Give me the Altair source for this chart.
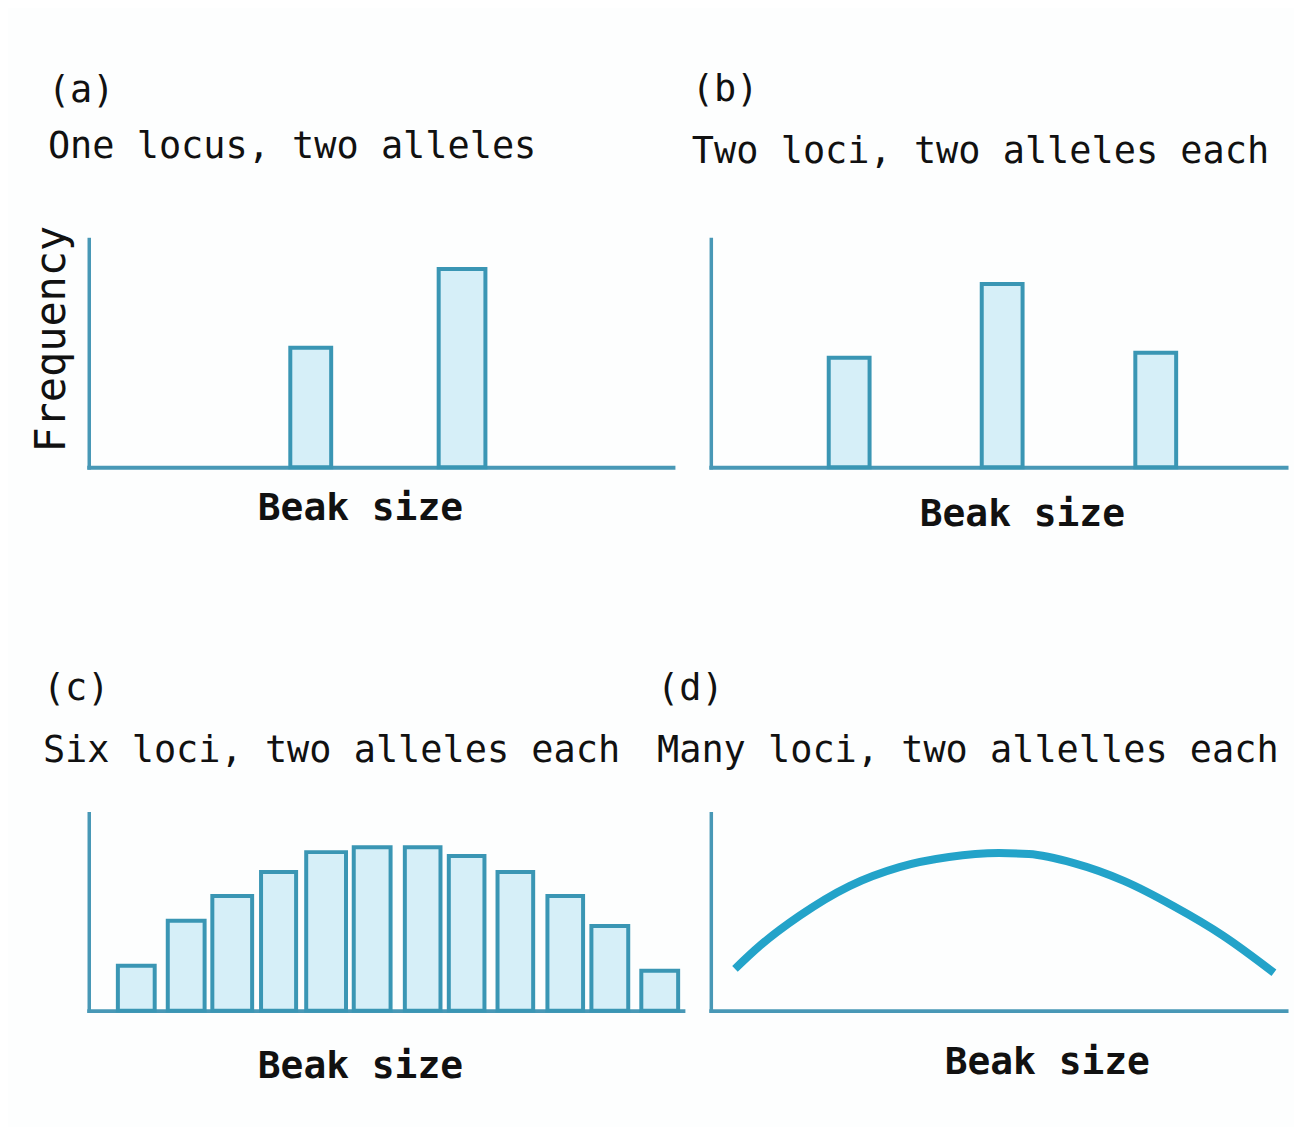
import altair as alt
import pandas as pd

# ---------------- data ----------------
# beak-size positions are on a 0-100 scale spanning each panel's x axis,
# frequencies on a 0-100 scale spanning each panel's y axis
a_left = [34.5, 59.9]
a_right = [41.5, 67.9]
a_freq = [52.4, 86.9]

b_left = [20.5, 47.1, 73.8]
b_right = [27.6, 54.2, 80.9]
b_freq = [48.0, 80.3, 50.2]

c_left = [4.9, 13.3, 20.8, 29.0, 36.6, 44.6, 53.2, 60.6, 68.8, 77.2, 84.6, 93.0]
c_right = [11.1, 19.5, 27.5, 34.9, 43.3, 50.8, 59.2, 66.6, 74.8, 83.2, 90.8, 99.2]
c_freq = [22.7, 45.5, 58.1, 70.2, 80.3, 82.8, 82.8, 78.3, 70.2, 58.1, 42.9, 20.2]

d_beak = [4.2, 8.5, 15.4, 24.1, 32.8, 41.4, 50.1, 55.3, 63.1, 71.8, 80.4, 89.1, 97.9]
d_freq = [21.2, 32.8, 48.0, 63.1, 72.7, 77.8, 79.8, 79.3, 74.7, 65.7, 53.0, 37.9, 19.2]

labels = ["(a)", "(b)", "(c)", "(d)"]
subtitles = [
    "One locus, two alleles",
    "Two loci, two alleles each",
    "Six loci, two alleles each",
    "Many loci, two allelles each",
]
x_title = "Beak size"
y_title = "Frequency"

FONT = "DejaVu Sans Mono"
AXIS_COLOR = "#4898b6"
BAR_STROKE = "#3a96b4"
BAR_FILL = "#d6eff8"
CURVE = "#23a3c9"


def xaxis(title_x, title_y):
    return alt.Axis(
        domain=True, domainColor=AXIS_COLOR, domainWidth=4, domainCap="square",
        ticks=False, labels=False, grid=False,
        title=x_title, titleX=title_x, titleY=title_y,
        titleAlign="center", titleBaseline="middle",
        titleFont=FONT, titleFontSize=38, titleFontWeight="bold", titleColor="#111111",
    )


def yaxis(with_title=False):
    if with_title:
        return alt.Axis(
            domain=True, domainColor=AXIS_COLOR, domainWidth=3.5, domainCap="square",
            ticks=False, labels=False, grid=False,
            title=y_title, titleAngle=270, titleX=-37, titleY=100,
            titleAlign="center", titleBaseline="middle",
            titleFont=FONT, titleFontSize=42, titleFontWeight="normal", titleColor="#111111",
        )
    return alt.Axis(
        domain=True, domainColor=AXIS_COLOR, domainWidth=3.5, domainCap="square",
        ticks=False, labels=False, grid=False, title=None,
    )


def ttl(i, dx, pad, offset):
    return alt.TitleParams(
        text=labels[i], subtitle=subtitles[i], anchor="start", frame="group",
        dx=dx, offset=offset,
        font=FONT, fontSize=37, fontWeight="normal", color="#111111",
        subtitleFont=FONT, subtitleFontSize=37, subtitleColor="#111111",
        subtitlePadding=pad,
    )


xs = alt.Scale(domain=[0, 100], nice=False, zero=False)
ys = alt.Scale(domain=[0, 100], nice=False)


def bar_panel(left, right, freq, w, h, title, xa, ya):
    df = pd.DataFrame({"left": left, "right": right, "freq": freq})
    return (
        alt.Chart(df)
        .mark_rect(fill=BAR_FILL, stroke=BAR_STROKE, strokeWidth=4)
        .encode(
            x=alt.X("left:Q", scale=xs, axis=xa),
            x2="right:Q",
            y=alt.Y("freq:Q", scale=ys, axis=ya),
            y2=alt.datum(0),
        )
        .properties(width=w, height=h, title=title)
    )


pa = bar_panel(a_left, a_right, a_freq, 586, 229, ttl(0, -41, 20, 59),
               xaxis(272, 41), yaxis(True))
pb = bar_panel(b_left, b_right, b_freq, 577, 229, ttl(1, -19, 25, 68),
               xaxis(312, 47), yaxis())
pc = bar_panel(c_left, c_right, c_freq, 596, 198, ttl(2, -46, 26, 43),
               xaxis(272, 56), yaxis())

dfd = pd.DataFrame({"beak": d_beak, "freq": d_freq})
pd_ = (
    alt.Chart(dfd)
    .mark_line(color=CURVE, strokeWidth=8, interpolate="monotone", strokeCap="butt")
    .encode(
        x=alt.X("beak:Q", scale=xs, axis=xaxis(337, 52)),
        y=alt.Y("freq:Q", scale=ys, axis=yaxis()),
    )
    .properties(width=577, height=198, title=ttl(3, -54, 26, 43))
)

top = alt.hconcat(pa, pb, spacing=38, bounds="flush")
bottom = alt.hconcat(pc, pd_, spacing=28, bounds="flush")

chart = (
    alt.vconcat(top, bottom, spacing=137)
    .properties(padding={"left": 22, "top": 62, "right": 4, "bottom": 40},
                background="#fdfefe")
    .configure_view(strokeWidth=0)
)

chart.save("out.html", embed_options={"renderer": "svg", "actions": False})
